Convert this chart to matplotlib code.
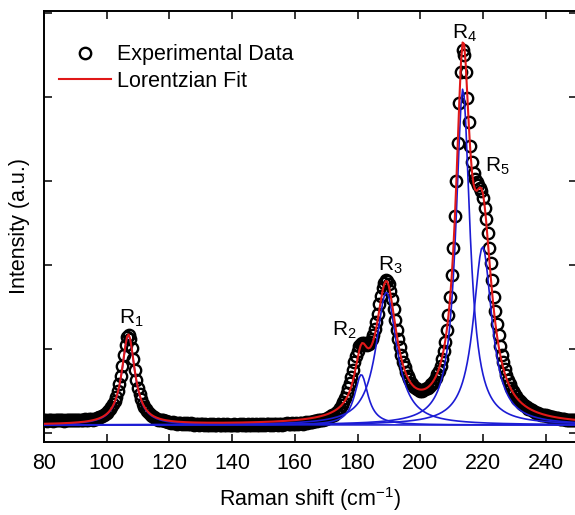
import numpy as np
import matplotlib
matplotlib.use("Agg")
import matplotlib.pyplot as plt

plt.rcParams['font.family'] = ['Liberation Sans', 'DejaVu Sans']
plt.rcParams['mathtext.default'] = 'regular'

# measured spectrum, 80-250 cm-1 every 0.5 cm-1
shift = np.arange(80, 250.01, 0.5)
intensity = [
    0.15, 0.16, 0.14, 0.15, 0.16, 0.15, 0.14, 0.15, 0.16, 0.15,   # 80
    0.15, 0.16, 0.15, 0.14, 0.15, 0.16, 0.15, 0.15, 0.16, 0.15,   # 85
    0.16, 0.15, 0.16, 0.16, 0.15, 0.16, 0.17, 0.16, 0.16, 0.17,   # 90
    0.17, 0.16, 0.17, 0.17, 0.18, 0.19, 0.19, 0.20, 0.21, 0.23,   # 95
    0.24, 0.26, 0.28, 0.31, 0.34, 0.38, 0.43, 0.50, 0.58, 0.68,   # 100
    0.80, 0.93, 1.05, 1.14, 1.17, 1.12, 1.01, 0.88, 0.75, 0.63,   # 105
    0.54, 0.46, 0.40, 0.35, 0.31, 0.28, 0.26, 0.24, 0.22, 0.20,   # 110
    0.19, 0.18, 0.17, 0.16, 0.16, 0.15, 0.15, 0.14, 0.14, 0.13,   # 115
    0.13, 0.12, 0.13, 0.12, 0.12, 0.11, 0.12, 0.12, 0.11, 0.12,   # 120
    0.11, 0.12, 0.11, 0.11, 0.12, 0.11, 0.10, 0.11, 0.11, 0.10,   # 125
    0.11, 0.11, 0.10, 0.11, 0.10, 0.10, 0.11, 0.10, 0.11, 0.10,   # 130
    0.10, 0.11, 0.10, 0.10, 0.11, 0.10, 0.10, 0.11, 0.10, 0.10,   # 135
    0.10, 0.11, 0.10, 0.10, 0.10, 0.11, 0.10, 0.11, 0.10, 0.10,   # 140
    0.11, 0.10, 0.10, 0.11, 0.10, 0.11, 0.10, 0.10, 0.11, 0.10,   # 145
    0.11, 0.10, 0.11, 0.11, 0.10, 0.11, 0.10, 0.11, 0.11, 0.10,   # 150
    0.11, 0.11, 0.10, 0.11, 0.11, 0.12, 0.11, 0.11, 0.12, 0.11,   # 155
    0.11, 0.12, 0.11, 0.12, 0.12, 0.11, 0.12, 0.13, 0.12, 0.13,   # 160
    0.13, 0.13, 0.14, 0.14, 0.14, 0.15, 0.15, 0.16, 0.16, 0.17,   # 165
    0.17, 0.18, 0.19, 0.20, 0.21, 0.22, 0.24, 0.25, 0.27, 0.30,   # 170
    0.33, 0.37, 0.42, 0.47, 0.53, 0.60, 0.67, 0.75, 0.84, 0.92,   # 175
    0.98, 1.03, 1.06, 1.07, 1.07, 1.06, 1.05, 1.06, 1.08, 1.12,   # 180
    1.17, 1.24, 1.32, 1.42, 1.53, 1.63, 1.72, 1.78, 1.82, 1.81,   # 185
    1.77, 1.69, 1.59, 1.47, 1.35, 1.23, 1.12, 1.02, 0.93, 0.85,   # 190
    0.79, 0.73, 0.68, 0.64, 0.60, 0.58, 0.55, 0.53, 0.52, 0.51,   # 195
    0.50, 0.50, 0.51, 0.52, 0.53, 0.54, 0.56, 0.58, 0.60, 0.62,   # 200
    0.66, 0.70, 0.74, 0.80, 0.88, 0.97, 1.08, 1.22, 1.40, 1.62,   # 205
    1.88, 2.20, 2.58, 3.00, 3.45, 3.92, 4.30, 4.56, 4.50, 4.30,   # 210
    3.98, 3.70, 3.42, 3.22, 3.09, 3.02, 2.98, 2.95, 2.92, 2.88,   # 215
    2.80, 2.68, 2.54, 2.38, 2.20, 2.02, 1.82, 1.62, 1.45, 1.30,   # 220
    1.16, 1.03, 0.93, 0.84, 0.76, 0.69, 0.63, 0.58, 0.54, 0.50,   # 225
    0.47, 0.44, 0.41, 0.39, 0.37, 0.35, 0.33, 0.32, 0.31, 0.29,   # 230
    0.28, 0.27, 0.26, 0.25, 0.24, 0.24, 0.23, 0.22, 0.22, 0.21,   # 235
    0.21, 0.20, 0.20, 0.19, 0.19, 0.19, 0.18, 0.18, 0.18, 0.17,   # 240
    0.17, 0.17, 0.17, 0.16, 0.16, 0.16, 0.16, 0.16, 0.15, 0.15,   # 245
    0.15,                                                         # 250
]

# Lorentzian components: centre (cm-1), height above background, half width
peak_names = ["R1", "R2", "R3", "R4", "R5"]
peak_centres = [106.9, 181.2, 189.2, 213.6, 219.9]
peak_heights = [1.07, 0.60, 1.58, 4.00, 2.12]
peak_hwhm = [2.5, 2.6, 4.0, 2.7, 3.6]
background = 0.095


def lorentz(x, c, a, w):
    return a / (1 + ((x - c) / w) ** 2)


parts = [lorentz(shift, c, a, w)
         for c, a, w in zip(peak_centres, peak_heights, peak_hwhm)]
fit = background + sum(parts)

fig = plt.figure(figsize=(5.75, 5.15), dpi=100)
ax = fig.add_axes([44 / 575, 1 - 442 / 515, 533 / 575, 431 / 515])

ax.plot(shift, intensity, 'o', mfc='none', mec='black', ms=8.2, mew=1.7,
        label='Experimental Data', zorder=2)
for p in parts:
    ax.plot(shift, background + p, color='#1c1cd4', lw=1.2, zorder=3)
ax.plot(shift, fit, color='#e01818', lw=1.5, label='Lorentzian Fit', zorder=4)

# peak labels, placed relative to the fitted maximum
offsets = [(0.8, 0.2), (-5.5, 0.17), (1.2, 0.19), (0.4, 0.11), (4.6, 0.31)]
for name, c, (dx, dy) in zip(peak_names, peak_centres, offsets):
    top = np.interp(c, shift, fit)
    ax.text(c + dx, top + dy, f"{name[0]}$_{name[1]}$", fontsize=15,
            ha='center', va='center')

ax.set_xlim(80, 250)
ax.set_ylim(-0.107, 5.02)
ax.set_xticks(np.arange(80, 250, 20))
ax.set_yticks(np.arange(0, 6, 1))
ax.tick_params(direction='in', length=5.8, width=1.1, top=True, right=True,
               labelleft=False, labelsize=15.5, pad=8)
for s in ax.spines.values():
    s.set_linewidth(1.4)
ax.set_xlabel('Raman shift (cm$^{-1}$)', fontsize=15.5, labelpad=8)
ax.set_ylabel('Intensity (a.u.)', fontsize=15.5, labelpad=10)
ax.legend(loc='upper left', bbox_to_anchor=(-0.008, 0.968), frameon=False,
          fontsize=15.5, handlelength=2.4, handletextpad=0.3, labelspacing=0.25)

fig.savefig('out.png', dpi=100)
